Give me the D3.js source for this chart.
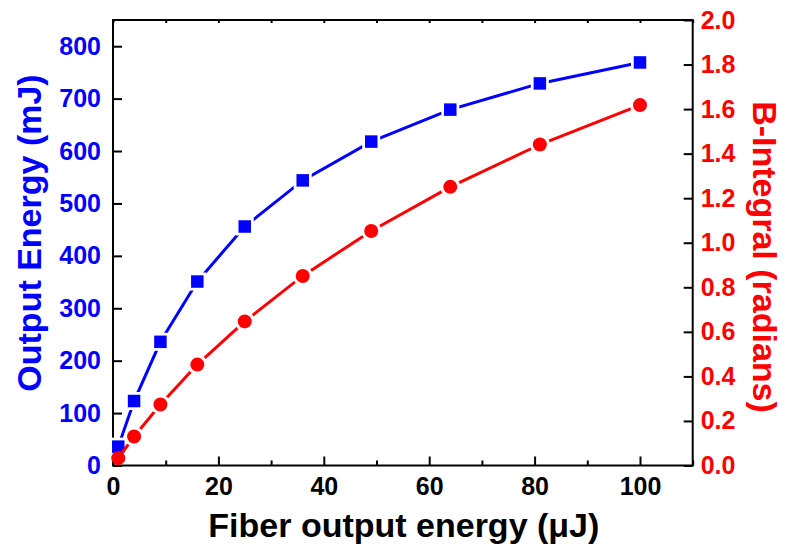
<!DOCTYPE html>
<html>
<head>
<meta charset="utf-8">
<script src="https://cdn.jsdelivr.net/npm/d3@7"></script>
<style>
  html, body { margin: 0; padding: 0; background: #fff; }
  svg { display: block; }
</style>
</head>
<body>
<svg id="chart" width="787" height="544"></svg>
<script>
// ---- data ----
const fiberEnergy = [1, 4, 9, 16, 25, 36, 49, 64, 81, 100];
const outputEnergy = [36, 123, 236, 351, 456, 544, 618, 679, 729, 769];
const bIntegral = [0.033, 0.13, 0.274, 0.453, 0.647, 0.851, 1.053, 1.251, 1.441, 1.618];
const xTickValues = [0, 20, 40, 60, 80, 100];
const xMinorTicks = [10, 30, 50, 70, 90, 110];
const leftTickValues = [0, 100, 200, 300, 400, 500, 600, 700, 800];
const rightTickValues = [0, 0.2, 0.4, 0.6, 0.8, 1.0, 1.2, 1.4, 1.6, 1.8, 2.0];
const xTitle = "Fiber output energy (\u03BCJ)";
const leftTitle = "Output Energy (mJ)";
const rightTitle = "B-Integral (radians)";

// ---- layout ----
const L = 113, R = 692.7, T = 20, B = 465.5;
const FONT = "'Liberation Sans', Arial, Helvetica, sans-serif";
const BLUE = "#0000FF", RED = "#FF0000";

const svg = d3.select("#chart");

const x = d3.scaleLinear().domain([0, 110]).range([L, R]);
const yL = d3.scaleLinear().domain([0, 850]).range([B, T]);
const yR = d3.scaleLinear().domain([0, 2]).range([B, T]);

function styleAxis(g, color, size) {
  g.select(".domain").remove();
  g.selectAll(".tick line").attr("stroke", "#000").attr("stroke-width", 2);
  g.selectAll(".tick text")
    .attr("fill", color)
    .attr("font-family", FONT)
    .attr("font-weight", "bold")
    .attr("font-size", size);
}

// bottom axis (major + minor), inward ticks
svg.append("g").attr("transform", `translate(0,${B})`)
  .call(d3.axisBottom(x).tickValues(xTickValues).tickSizeInner(-9).tickSizeOuter(0).tickPadding(12).tickFormat(d3.format("d")))
  .call(g => styleAxis(g, "#000", 25));
svg.append("g").attr("transform", `translate(0,${B})`)
  .call(d3.axisBottom(x).tickValues(xMinorTicks).tickSizeInner(-5).tickSizeOuter(0).tickFormat(""))
  .call(g => styleAxis(g, "#000", 25));
// top axis ticks (small, inward)
svg.append("g").attr("transform", `translate(0,${T})`)
  .call(d3.axisTop(x).tickValues(xTickValues.concat(xMinorTicks)).tickSizeInner(-3).tickSizeOuter(0).tickFormat(""))
  .call(g => styleAxis(g, "#000", 25));

// left axis
svg.append("g").attr("transform", `translate(${L},0)`)
  .call(d3.axisLeft(yL).tickValues(leftTickValues).tickSizeInner(-9).tickSizeOuter(0).tickPadding(12).tickFormat(d3.format("d")))
  .call(g => styleAxis(g, BLUE, 25));

// right axis
svg.append("g").attr("transform", `translate(${R},0)`)
  .call(d3.axisRight(yR).tickValues(rightTickValues).tickSizeInner(-9).tickSizeOuter(0).tickPadding(8).tickFormat(d3.format(".1f")))
  .call(g => styleAxis(g, RED, 25));

// frame
svg.append("rect")
  .attr("x", L).attr("y", T).attr("width", R - L).attr("height", B - T)
  .attr("fill", "none").attr("stroke", "#000").attr("stroke-width", 2);

// series 1: output energy (blue squares)
const blueData = fiberEnergy.map((d, i) => [d, outputEnergy[i]]);
const redData = fiberEnergy.map((d, i) => [d, bIntegral[i]]);

svg.append("path").datum(blueData)
  .attr("d", d3.line().x(d => x(d[0])).y(d => yL(d[1])))
  .attr("fill", "none").attr("stroke", BLUE).attr("stroke-width", 3);
const sq = 12.5, gapSq = 18;
svg.append("g").selectAll("rect").data(blueData).join("rect")
  .attr("x", d => x(d[0]) - gapSq / 2).attr("y", d => yL(d[1]) - gapSq / 2)
  .attr("width", gapSq).attr("height", gapSq).attr("fill", "#fff");
svg.append("g").selectAll("rect").data(blueData).join("rect")
  .attr("x", d => x(d[0]) - sq / 2).attr("y", d => yL(d[1]) - sq / 2)
  .attr("width", sq).attr("height", sq).attr("fill", BLUE);

// series 2: B-integral (red circles)
svg.append("path").datum(redData)
  .attr("d", d3.line().x(d => x(d[0])).y(d => yR(d[1])))
  .attr("fill", "none").attr("stroke", RED).attr("stroke-width", 3);
svg.append("g").selectAll("circle").data(redData.slice(1)).join("circle")
  .attr("cx", d => x(d[0])).attr("cy", d => yR(d[1])).attr("r", 10).attr("fill", "#fff");
svg.append("g").selectAll("circle").data(redData).join("circle")
  .attr("cx", d => x(d[0])).attr("cy", d => yR(d[1])).attr("r", 7).attr("fill", RED);

// axis titles
svg.append("text")
  .attr("x", (L + R) / 2 + 1).attr("y", 537)
  .attr("text-anchor", "middle")
  .attr("font-family", FONT).attr("font-weight", "bold").attr("font-size", 34)
  .attr("fill", "#000").text(xTitle);

svg.append("text")
  .attr("transform", `translate(41,233) rotate(-90)`)
  .attr("text-anchor", "middle")
  .attr("font-family", FONT).attr("font-weight", "bold").attr("font-size", 34)
  .attr("fill", BLUE).text(leftTitle);

svg.append("text")
  .attr("transform", `translate(753,257) rotate(90)`)
  .attr("text-anchor", "middle")
  .attr("font-family", FONT).attr("font-weight", "bold").attr("font-size", 34)
  .attr("fill", RED).text(rightTitle);
</script>
</body>
</html>
